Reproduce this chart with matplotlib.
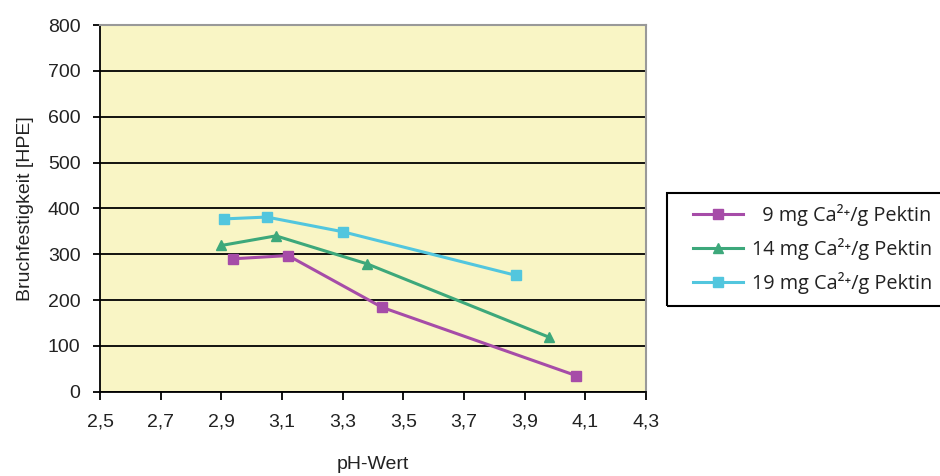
import matplotlib.pyplot as plt
from matplotlib.patches import Rectangle
from matplotlib.ticker import FixedLocator

plt.rcParams.update({
    "font.family": ["Liberation Sans", "DejaVu Sans"],
    "font.size": 14,
})

# data
ph_9 = [2.94, 3.12, 3.43, 4.07]
hpe_9 = [290, 297, 184, 35]
ph_14 = [2.90, 3.08, 3.38, 3.98]
hpe_14 = [319, 340, 279, 119]
ph_19 = [2.91, 3.05, 3.30, 3.87]
hpe_19 = [377, 381, 349, 254]

labels = ["  9 mg Ca²⁺/g Pektin", "14 mg Ca²⁺/g Pektin", "19 mg Ca²⁺/g Pektin"]
colors = ["#A64CA8", "#3DA87B", "#52C6DE"]
markers = ["s", "^", "s"]

x_ticks = [2.5, 2.7, 2.9, 3.1, 3.3, 3.5, 3.7, 3.9, 4.1, 4.3]
x_ticklabels = ["2,5", "2,7", "2,9", "3,1", "3,3", "3,5", "3,7", "3,9", "4,1", "4,3"]
y_ticks = [0, 100, 200, 300, 400, 500, 600, 700, 800]

fig = plt.figure(figsize=(9.4, 4.76), dpi=100)
ax = fig.add_axes([100/940, 1 - 391.7/476, 546/940, 366.7/476])
ax.set_facecolor("#F9F5C5")

series = [(ph_9, hpe_9), (ph_14, hpe_14), (ph_19, hpe_19)]
for (x, y), lab, c, m in zip(series, labels, colors, markers):
    ax.plot(x, y, color=c, marker=m, markersize=7.5 if m == "^" else 6.5,
            linewidth=2.2, label=lab, zorder=3)

ax.set_xlim(2.5, 4.3)
ax.set_ylim(0, 800)
ax.xaxis.set_major_locator(FixedLocator(x_ticks))
ax.set_xticklabels(x_ticklabels)
ax.set_yticks(y_ticks)
ax.yaxis.grid(True, color="black", linewidth=1.3)
ax.set_axisbelow(True)

for s in ["top", "right"]:
    ax.spines[s].set_color("#999999")
    ax.spines[s].set_linewidth(1.5)
for s in ["left", "bottom"]:
    ax.spines[s].set_color("black")
    ax.spines[s].set_linewidth(1.3)
ax.tick_params(axis="both", direction="out", width=1.3, colors="black",
               labelsize=14, labelcolor="#222222")
ax.tick_params(axis="y", length=5, pad=9)
ax.tick_params(axis="x", length=5.8, pad=10)

ax.set_xlabel("pH-Wert", fontsize=14, labelpad=18, color="#222222")
ax.set_ylabel("Bruchfestigkeit [HPE]", fontsize=14, labelpad=10, color="#222222")

# legend without its own frame, boxed by a rectangle in figure pixels
leg = ax.legend(loc="center left", bbox_to_anchor=(693/940, 1 - 249/476),
                bbox_transform=fig.transFigure, frameon=False,
                handlelength=2.5, handletextpad=0.45, labelspacing=0.62,
                borderpad=0, borderaxespad=0,
                prop={"family": ["Open Sans", "DejaVu Sans"], "size": 14.3})
for t in leg.get_texts():
    t.set_color("#222222")

fig.patches.append(Rectangle((667/940, 1 - 306/476), 290/940, 113/476,
                             transform=fig.transFigure, fill=False,
                             edgecolor="black", linewidth=1.5))

fig.savefig("out.png", dpi=100)
